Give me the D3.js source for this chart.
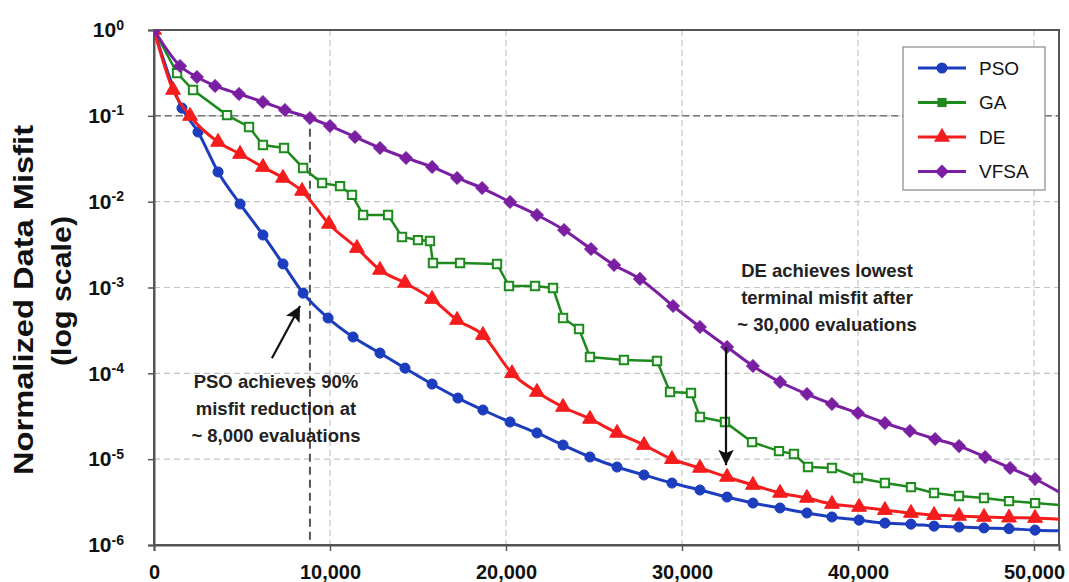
<!DOCTYPE html>
<html>
<head>
<meta charset="utf-8">
<script src="https://cdn.jsdelivr.net/npm/d3@7"></script>
<style>
  body { margin: 0; background: #fff; }
  svg text { font-family: "Liberation Sans", Arial, sans-serif; }
</style>
</head>
<body>
<svg id="chart"></svg>
<script>
const width = 1069, height = 582;
const margin = { top: 30, right: 10, bottom: 37, left: 154 };

// ---- data ----
const psoEvals = [0, 1590, 2500, 3640, 4890, 6190, 7330, 8470, 9890, 11310, 12840, 14260, 15800, 17270, 18690, 20230, 21760, 23240, 24770, 26310, 27840, 29430, 31020, 32560, 34030, 35570, 37100, 38520, 40060, 41530, 43010, 44320, 45740, 47160, 48580, 50060, 51420];
const psoMisfit = [1, 0.123, 0.0648, 0.0222, 0.0094, 0.00409, 0.00188, 8.6e-4, 4.41e-4, 2.65e-4, 1.72e-4, 1.15e-4, 7.5e-5, 5.15e-5, 3.74e-5, 2.71e-5, 2.02e-5, 1.46e-5, 1.06e-5, 8.1e-6, 6.54e-6, 5.27e-6, 4.37e-6, 3.62e-6, 3.08e-6, 2.7e-6, 2.36e-6, 2.12e-6, 1.95e-6, 1.8e-6, 1.75e-6, 1.66e-6, 1.62e-6, 1.58e-6, 1.55e-6, 1.49e-6, 1.47e-6];

const gaEvals = [0, 1310, 2220, 4150, 5400, 6190, 7390, 8470, 9550, 10570, 11250, 11880, 13300, 14090, 15000, 15680, 15850, 17390, 19490, 20170, 21650, 22670, 23240, 24150, 24770, 26700, 28580, 29320, 30510, 31020, 32440, 33980, 35510, 36360, 37160, 38520, 40000, 41530, 43010, 44320, 45740, 47160, 48580, 50060, 51420];
const gaMisfit = [1, 0.315, 0.2, 0.102, 0.0741, 0.0457, 0.0422, 0.0247, 0.0165, 0.0152, 0.012, 0.007, 0.007, 0.00388, 0.00357, 0.00348, 0.00193, 0.00193, 0.00188, 0.00104, 0.00104, 9.86e-4, 4.41e-4, 3.28e-4, 1.55e-4, 1.43e-4, 1.39e-4, 6.06e-5, 5.9e-5, 3.1e-5, 2.71e-5, 1.58e-5, 1.24e-5, 1.15e-5, 8.1e-6, 7.9e-6, 6.03e-6, 5.27e-6, 4.73e-6, 4.04e-6, 3.72e-6, 3.53e-6, 3.25e-6, 3.08e-6, 2.92e-6];

const deEvals = [0, 1080, 2050, 3640, 4890, 6190, 7330, 8410, 9940, 11530, 12840, 14260, 15800, 17220, 18690, 20340, 21760, 23240, 24770, 26310, 27840, 29430, 31020, 32560, 34030, 35570, 37100, 38520, 40060, 41530, 43010, 44320, 45740, 47160, 48580, 50060, 51420];
const deMisfit = [1, 0.2, 0.0995, 0.0496, 0.0359, 0.0253, 0.0189, 0.0133, 0.0055, 0.00288, 0.0016, 0.00113, 7.34e-4, 4.18e-4, 2.79e-4, 1.0e-4, 6.06e-5, 4.05e-5, 2.94e-5, 2.02e-5, 1.46e-5, 1.0e-5, 7.9e-6, 6.2e-6, 5.0e-6, 4.04e-6, 3.53e-6, 3.0e-6, 2.77e-6, 2.55e-6, 2.36e-6, 2.23e-6, 2.18e-6, 2.12e-6, 2.08e-6, 2.06e-6, 2.0e-6];

const vfsaEvals = [0, 1480, 2440, 3470, 4830, 6190, 7440, 8860, 10000, 11420, 12840, 14320, 15800, 17220, 18640, 20230, 21760, 23300, 24830, 26140, 27610, 29490, 31020, 32560, 34030, 35570, 37100, 38520, 40000, 41530, 42950, 44380, 45740, 47220, 48640, 50060, 51420];
const vfsaMisfit = [1, 0.381, 0.283, 0.223, 0.18, 0.145, 0.117, 0.0944, 0.0762, 0.0567, 0.0422, 0.0323, 0.0254, 0.0189, 0.0144, 0.0099, 0.007, 0.00468, 0.00281, 0.00183, 0.00126, 6.09e-4, 3.47e-4, 2.03e-4, 1.22e-4, 7.92e-5, 5.74e-5, 4.39e-5, 3.45e-5, 2.64e-5, 2.13e-5, 1.72e-5, 1.42e-5, 1.06e-5, 7.9e-6, 5.87e-6, 4.14e-6];

const seriesNames = ["PSO", "GA", "DE", "VFSA"];
const xTicks = [0, 10000, 20000, 30000, 40000, 50000];
const yExponents = [0, -1, -2, -3, -4, -5, -6];

const psoNote = ["PSO achieves 90%", "misfit reduction at", "~ 8,000 evaluations"];
const deNote = ["DE achieves lowest", "terminal misfit after", "~ 30,000 evaluations"];

// ---- layout ----
const colors = { PSO: "#1c3dbd", GA: "#1e8a1e", DE: "#f41c1c", VFSA: "#7a1fa2" };
const plotW = width - margin.left - margin.right;
const plotH = height - margin.top - margin.bottom;

const x = d3.scaleLinear().domain([0, 51420]).range([0, plotW]);
const y = d3.scaleLog().domain([1e-6, 1]).range([plotH, 0]);

const svg = d3.select("#chart").attr("width", width).attr("height", height);

svg.append("defs").append("clipPath").attr("id", "clip")
    .append("rect").attr("width", plotW).attr("height", plotH);
const arrowDef = svg.select("defs").append("marker")
    .attr("id", "arrow").attr("viewBox", "0 0 10 10").attr("refX", 10).attr("refY", 5)
    .attr("markerWidth", 7).attr("markerHeight", 7).attr("orient", "auto-start-reverse")
    .attr("markerUnits", "strokeWidth");
arrowDef.append("path").attr("d", "M0,0 L10,5 L0,10 L2,5 Z").attr("fill", "#111");

const g = svg.append("g").attr("transform", `translate(${margin.left},${margin.top})`);

// grid
g.append("g").selectAll("line").data(yExponents.slice(1, -1)).join("line")
    .attr("x1", 0).attr("x2", plotW)
    .attr("y1", d => y(Math.pow(10, d))).attr("y2", d => y(Math.pow(10, d)))
    .attr("stroke", "#c4c4c4").attr("stroke-width", 1.2).attr("stroke-dasharray", "6,4");
g.append("g").selectAll("line").data(xTicks.slice(1)).join("line")
    .attr("x1", d => x(d)).attr("x2", d => x(d))
    .attr("y1", 0).attr("y2", plotH)
    .attr("stroke", "#c4c4c4").attr("stroke-width", 1.2).attr("stroke-dasharray", "6,4");

// 90% reduction guide lines
const markEval = 8860;
g.append("line").attr("x1", 0).attr("x2", plotW).attr("y1", y(0.1)).attr("y2", y(0.1))
    .attr("stroke", "#777").attr("stroke-width", 1.5).attr("stroke-dasharray", "7,4");
g.append("line").attr("x1", x(markEval)).attr("x2", x(markEval)).attr("y1", y(0.1)).attr("y2", plotH)
    .attr("stroke", "#555").attr("stroke-width", 2).attr("stroke-dasharray", "8,5");

// frame
g.append("rect").attr("width", plotW).attr("height", plotH)
    .attr("fill", "none").attr("stroke", "#555").attr("stroke-width", 2);

// axes
const xAxis = g.append("g").attr("transform", `translate(0,${plotH})`)
    .call(d3.axisBottom(x).tickValues(xTicks).tickFormat(d3.format(",")).tickSize(6).tickPadding(14));
xAxis.select(".domain").attr("stroke", "#555").attr("stroke-width", 2);
xAxis.selectAll(".tick line").attr("stroke", "#555").attr("stroke-width", 1.5);
xAxis.selectAll("text").attr("font-size", 20).attr("font-weight", "bold").attr("fill", "#111")
    .attr("font-family", "Liberation Sans, Arial, sans-serif");

const yAxis = g.append("g")
    .call(d3.axisLeft(y).tickValues(yExponents.map(e => Math.pow(10, e))).tickSize(6).tickPadding(24));
yAxis.select(".domain").attr("stroke", "#555").attr("stroke-width", 2);
yAxis.selectAll(".tick line").attr("stroke", "#555").attr("stroke-width", 1.5);
yAxis.selectAll(".tick text").each(function (d) {
    const t = d3.select(this).text(null)
        .attr("font-size", 21).attr("font-weight", "bold").attr("fill", "#111")
        .attr("font-family", "Liberation Sans, Arial, sans-serif");
    t.append("tspan").text("10");
    t.append("tspan").attr("dy", "-0.55em").attr("font-size", 14).text(Math.round(Math.log10(d)));
});

// y title
svg.append("text").attr("transform", "translate(33,300) rotate(-90)")
    .attr("text-anchor", "middle").attr("font-size", 28).attr("font-weight", "bold").attr("fill", "#111")
    .attr("textLength", 350).attr("lengthAdjust", "spacingAndGlyphs")
    .text("Normalized Data Misfit");
svg.append("text").attr("transform", "translate(71,291) rotate(-90)")
    .attr("text-anchor", "middle").attr("font-size", 28).attr("font-weight", "bold").attr("fill", "#111")
    .attr("textLength", 150).attr("lengthAdjust", "spacingAndGlyphs")
    .text("(log scale)");

// series
const series = [
    { name: "PSO", evals: psoEvals, misfit: psoMisfit, symbol: d3.symbolCircle, size: 80, rot: 0, fill: colors.PSO, curve: d3.curveMonotoneX, lw: 3 },
    { name: "GA", evals: gaEvals, misfit: gaMisfit, symbol: d3.symbolSquare, size: 70, rot: 0, fill: "#f2fbf0", curve: d3.curveLinear, lw: 2.5 },
    { name: "DE", evals: deEvals, misfit: deMisfit, symbol: d3.symbolTriangle, size: 95, rot: 0, fill: colors.DE, curve: d3.curveMonotoneX, lw: 3 },
    { name: "VFSA", evals: vfsaEvals, misfit: vfsaMisfit, symbol: d3.symbolSquare, size: 80, rot: 45, fill: colors.VFSA, curve: d3.curveMonotoneX, lw: 3 }
];

const plot = g.append("g").attr("clip-path", "url(#clip)");

series.forEach(s => {
    const pts = s.evals.map((e, i) => ({ e, m: s.misfit[i] }));
    const line = d3.line().x(d => x(d.e)).y(d => y(d.m)).curve(s.curve);
    plot.append("path").datum(pts)
        .attr("d", line).attr("fill", "none")
        .attr("stroke", colors[s.name]).attr("stroke-width", s.lw);
    plot.append("g").selectAll("path").data(pts.slice(0, -1)).join("path")
        .attr("d", d3.symbol().type(s.symbol).size(s.size))
        .attr("transform", d => `translate(${x(d.e)},${y(d.m)}) rotate(${s.rot})`)
        .attr("fill", s.fill).attr("stroke", colors[s.name]).attr("stroke-width", s.name === "GA" ? 2 : 1);
});

// annotations
const noteText = (lines, cx, topY) => {
    const t = g.append("text").attr("text-anchor", "middle").attr("font-size", 18.5)
        .attr("font-weight", "bold").attr("fill", "#222");
    lines.forEach((l, i) => t.append("tspan").attr("x", x(cx)).attr("y", topY + i * 27).text(l));
};
noteText(psoNote, 6930, 358);
noteText(deNote, 38240, 247);

g.append("line")
    .attr("x1", x(6700)).attr("y1", y(1.5e-4)).attr("x2", x(8300)).attr("y2", y(6.1e-4))
    .attr("stroke", "#111").attr("stroke-width", 2.2).attr("marker-end", "url(#arrow)");
g.append("line")
    .attr("x1", x(32500)).attr("y1", y(2.03e-4)).attr("x2", x(32500)).attr("y2", y(8.5e-6))
    .attr("stroke", "#111").attr("stroke-width", 2.2).attr("marker-end", "url(#arrow)");

// legend
const legend = svg.append("g").attr("transform", "translate(903,47)");
legend.append("rect").attr("width", 142).attr("height", 143)
    .attr("fill", "#fff").attr("stroke", "#888").attr("stroke-width", 1.2);
series.forEach((s, i) => {
    const row = legend.append("g").attr("transform", `translate(0,${21 + i * 34.5})`);
    row.append("line").attr("x1", 15).attr("x2", 63)
        .attr("stroke", colors[s.name]).attr("stroke-width", 3);
    row.append("path").attr("d", d3.symbol().type(s.symbol).size(s.size * 1.2))
        .attr("transform", `translate(39,0) rotate(${s.rot})`)
        .attr("fill", colors[s.name]);
    row.append("text").attr("x", 76).attr("dy", "0.35em")
        .attr("font-size", 19).attr("fill", "#111").text(seriesNames[i]);
});
</script>
</body>
</html>
